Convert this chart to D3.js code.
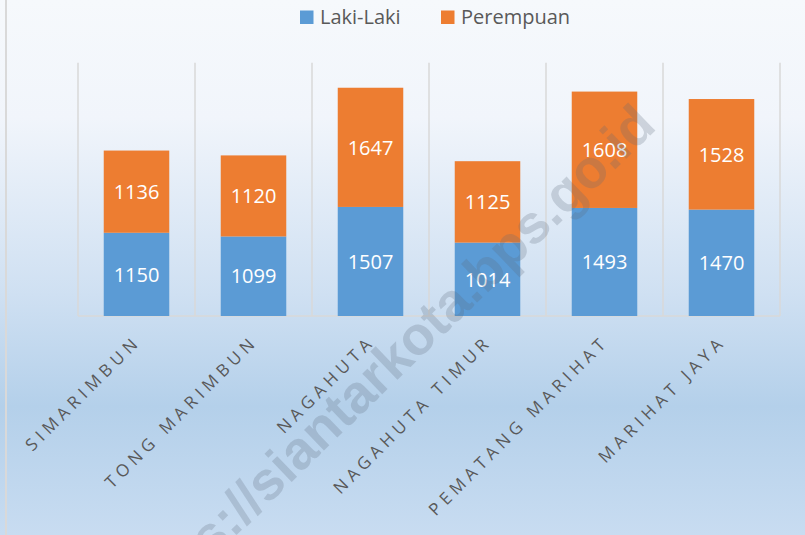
<!DOCTYPE html>
<html>
<head>
<meta charset="utf-8">
<script src="https://cdn.jsdelivr.net/npm/d3@7"></script>
<style>
  html, body { margin: 0; padding: 0; background: #fff; }
  svg { display: block; }
</style>
</head>
<body>
<svg id="chart" width="805" height="535"></svg>
<script>
const categories = ["SIMARIMBUN", "TONG MARIMBUN", "NAGAHUTA", "NAGAHUTA TIMUR", "PEMATANG MARIHAT", "MARIHAT JAYA"];
const lakiLaki = [1150, 1099, 1507, 1014, 1493, 1470];
const perempuan = [1136, 1120, 1647, 1125, 1608, 1528];
const seriesNames = ["Laki-Laki", "Perempuan"];
const seriesColors = ["#5b9bd5", "#ed7d31"];
const yMax = 3500;
const watermark = "https://siantarkota.bps.go.id";

(function () {
const W = 805, H = 535;
const svg = d3.select("#chart");
const defs = svg.append("defs");
const grad = defs.append("linearGradient").attr("id", "bg").attr("x1", 0).attr("y1", 0).attr("x2", 0).attr("y2", 1);
[["0%", "#f6f9fc"], ["22%", "#f1f5fb"], ["55%", "#cfe0f2"], ["76%", "#b4d0ea"], ["100%", "#c8dcf1"]]
  .forEach(([o, c]) => grad.append("stop").attr("offset", o).attr("stop-color", c));
svg.append("rect").attr("width", W).attr("height", H).attr("fill", "url(#bg)");
svg.append("line").attr("x1", 6).attr("x2", 6).attr("y1", 0).attr("y2", H)
  .attr("stroke", "#d9d9d9").attr("stroke-width", 2);

const pLeft = 78, pRight = 780, pTop = 62.7, pBottom = 316;
const x = d3.scaleBand().domain(categories).range([pLeft, pRight]).paddingInner(0.44).paddingOuter(0.22);
const xBand = d3.scaleBand().domain(categories).range([pLeft, pRight]);
const y = d3.scaleLinear().domain([0, yMax]).range([pBottom, pTop]);

// vertical category separators
const sepX = categories.map(c => xBand(c)).concat([pRight]);
svg.append("g").selectAll("line").data(sepX).join("line")
  .attr("x1", d => d).attr("x2", d => d).attr("y1", pTop).attr("y2", pBottom)
  .attr("stroke", "#d9d9d9").attr("stroke-width", 1.5);
svg.append("line").attr("x1", pLeft).attr("x2", pRight).attr("y1", pBottom).attr("y2", pBottom)
  .attr("stroke", "#d9d9d9").attr("stroke-width", 1.5);

const rows = categories.map((c, i) => ({ cat: c, "Laki-Laki": lakiLaki[i], "Perempuan": perempuan[i] }));
const stack = d3.stack().keys(seriesNames)(rows);

const gBars = svg.append("g");
stack.forEach((s, si) => {
  gBars.append("g").selectAll("rect").data(s).join("rect")
    .attr("x", d => x(d.data.cat)).attr("width", x.bandwidth())
    .attr("y", d => y(d[1])).attr("height", d => y(d[0]) - y(d[1]))
    .attr("fill", seriesColors[si]);
  gBars.append("g").selectAll("text").data(s).join("text")
    .attr("x", d => x(d.data.cat) + x.bandwidth() / 2)
    .attr("y", d => (y(d[0]) + y(d[1])) / 2)
    .attr("dy", "0.36em")
    .attr("text-anchor", "middle")
    .attr("font-family", "'Open Sans', sans-serif").attr("font-size", 20)
    .attr("fill", "#ffffff")
    .text(d => d[1] - d[0]);
});

// x labels
const ls = 4.8;
svg.append("g").selectAll("text").data(categories).join("text")
  .attr("transform", d => `translate(${xBand(d) + xBand.bandwidth() / 2 + 2 + ls * 0.707},${346 - ls * 0.707}) rotate(-45)`)
  .attr("text-anchor", "end")
  .attr("font-family", "'Open Sans', sans-serif").attr("font-size", 17)
  .attr("letter-spacing", ls)
  .attr("fill", "#595959")
  .text(d => d);

// legend
const legend = svg.append("g");
const legX = [300, 441];
seriesNames.forEach((n, i) => {
  legend.append("rect").attr("x", legX[i]).attr("y", 10.5).attr("width", 13.5).attr("height", 13.5).attr("fill", seriesColors[i]);
  legend.append("text").attr("x", legX[i] + 20).attr("y", 24)
    .attr("font-family", "'Open Sans', sans-serif").attr("font-size", 20)
    .attr("fill", "#595959").text(n);
});

// watermark
svg.append("text")
  .attr("transform", "translate(658,128) rotate(-44)")
  .attr("text-anchor", "end")
  .attr("font-family", "'Liberation Sans', Arial, sans-serif").attr("font-weight", "bold")
  .attr("font-size", 54)
  .attr("fill", "#5a6a7a").attr("fill-opacity", 0.24)
  .text(watermark);
})();
</script>
</body>
</html>
